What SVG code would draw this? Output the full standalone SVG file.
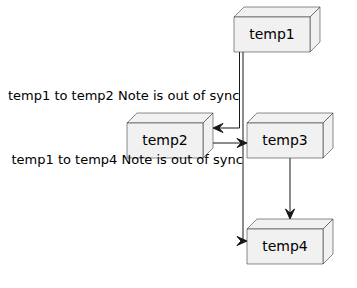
<svg xmlns="http://www.w3.org/2000/svg" width="357" height="288" viewBox="0 0 357 288">
<defs>
<style>
.face{fill:#F1F1F1;stroke:#181818;stroke-width:0.5;stroke-linejoin:round}
.nlabel{font-family:"DejaVu Sans",sans-serif;font-size:14px;fill:#000;text-anchor:middle}
.elabel{font-family:"DejaVu Sans",sans-serif;font-size:13px;fill:#000}
.edge{fill:none;stroke:#181818;stroke-width:1}
.head{fill:#181818;stroke:#181818;stroke-width:1;stroke-linejoin:miter}
</style>
</defs>
<rect width="357" height="288" fill="#FFFFFF"/>
<g id="temp1">
<polygon class="face" points="234,17 244,7 320,7 310,17"/>
<polygon class="face" points="310,17 320,7 320,42 310,52"/>
<rect class="face" x="234" y="17" width="76" height="35"/>
<text class="nlabel" x="272" y="39">temp1</text>
</g>
<g id="temp2">
<polygon class="face" points="127,123 137,113 213,113 203,123"/>
<polygon class="face" points="203,123 213,113 213,148 203,158"/>
<rect class="face" x="127" y="123" width="76" height="35"/>
<text class="nlabel" x="165" y="145">temp2</text>
</g>
<g id="temp3">
<polygon class="face" points="247,123 257,113 333,113 323,123"/>
<polygon class="face" points="323,123 333,113 333,148 323,158"/>
<rect class="face" x="247" y="123" width="76" height="35"/>
<text class="nlabel" x="285" y="145">temp3</text>
</g>
<g id="temp4">
<polygon class="face" points="247,229 257,219 333,219 323,229"/>
<polygon class="face" points="323,229 333,219 333,254 323,264"/>
<rect class="face" x="247" y="229" width="76" height="35"/>
<text class="nlabel" x="285" y="251">temp4</text>
</g>
<g id="connectors">
<path class="edge" d="M239.5,52 V128 H214"/>
<polygon class="head" points="213,128 223,123.5 219,128 223,132.5"/>
<path class="edge" d="M243,52 V241 H246"/>
<polygon class="head" points="247,241 237,236.5 241,241 237,245.5"/>
<path class="edge" d="M213,143 H246"/>
<polygon class="head" points="247,143 237,138.5 241,143 237,147.5"/>
<path class="edge" d="M290,158 V218"/>
<polygon class="head" points="290,219 285.5,209 290,213 294.5,209"/>
<text class="elabel" x="8" y="99.5">temp1 to temp2 Note is out of sync</text>
<text class="elabel" x="11.5" y="163.5">temp1 to temp4 Note is out of sync</text>
</g>
</svg>
